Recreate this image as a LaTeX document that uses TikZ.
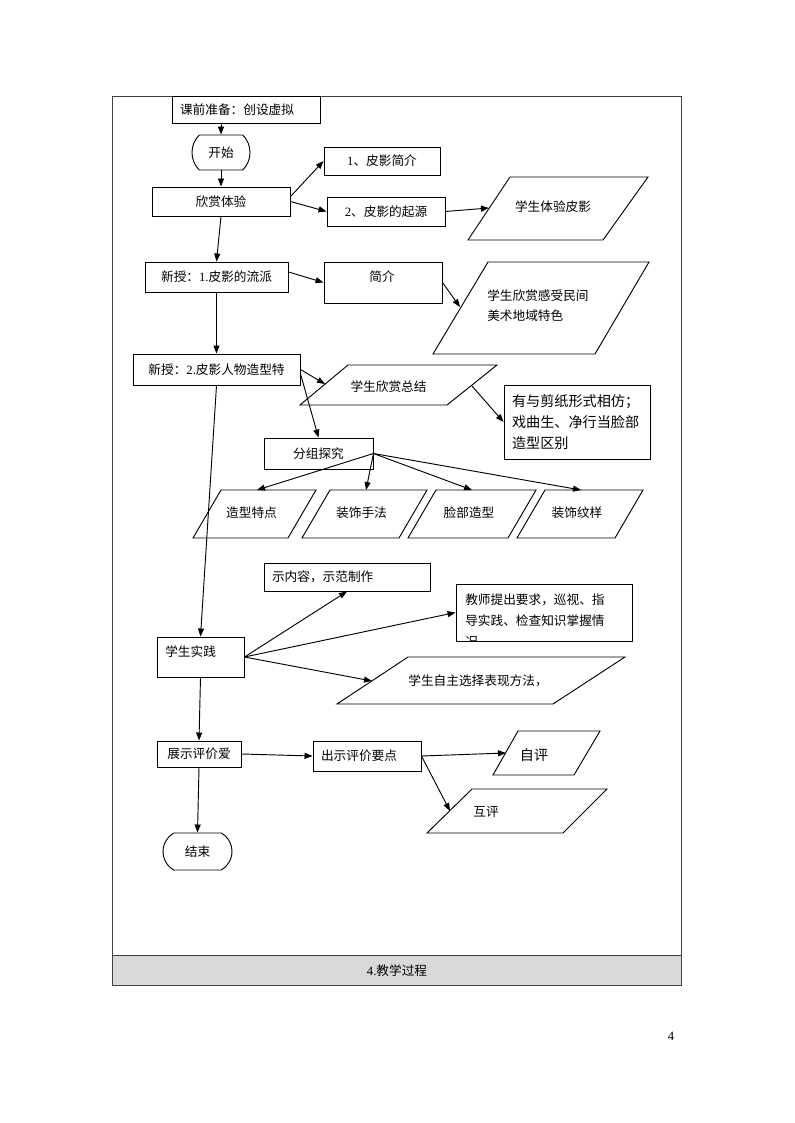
\documentclass[tikz,border=0pt]{standalone}
\usepackage{fontspec}
\setmainfont{Noto Sans CJK SC}
\newfontfamily\lat{Liberation Serif}
\usetikzlibrary{arrows.meta,shapes.misc}

\begin{document}
\begin{tikzpicture}[x = 0.75pt, y = 0.75pt, yscale = -1,
  every node/.style = {font = \fontsize{9.5}{12}\selectfont, inner sep = 0pt},
  box/.style = {draw, line width = 0.7pt},
  lbox/.style = {box, align = left, inner xsep = 6pt},
  term/.style = {draw, line width = 0.7pt, rounded rectangle, rounded rectangle arc length = #1},
  para/.style = {draw, line width = 0.7pt},
  arr/.style = {line width = 0.7pt, -{Triangle[length = 6pt, width = 4.5pt]}},
  big/.style = {font = \fontsize{10.6}{16}\selectfont}]
\useasboundingbox (0,0) rectangle (794,1123);
% frame of the table cell
\fill[black!15] (112,955) rectangle (681,985);
\draw[line width = 0.7pt, black!75] (112,96) rectangle (681,985);
\draw[line width = 0.7pt, black!75] (112,955) -- (681,955);
\node (title) at (397,971) {{\lat 4.}教学过程};
\node (page) at (671,1036) {\lat 4};

\node[lbox, text width = 99pt, minimum height = 20.25pt] (kq) at (246,109.5) {课前准备：创设虚拟};
\node[term = 90, minimum width = 43.5pt, minimum height = 26.25pt] (ks) at (221,152.5) {开始};
\node[box, minimum width = 103.5pt, minimum height = 21.75pt] (xs) at (221,201.5) {欣赏体验};
\node[box, minimum width = 87pt, minimum height = 21pt] (j1) at (382,161) {{\lat 1}、皮影简介};
\node[box, minimum width = 88.5pt, minimum height = 21.75pt] (qy) at (386,211.5) {{\lat 2}、皮影的起源};
\node[box, minimum width = 107.25pt, minimum height = 22.5pt] (lp) at (216.5,277) {新授：{\lat 1.}皮影的流派};
\node[box, minimum width = 88.5pt, minimum height = 30.75pt] (jj) at (383,282.5) {};
\node (jj-t) at (382,277) {简介};
\node[box, minimum width = 125.25pt, minimum height = 23.25pt] (rw) at (216.5,369.5) {新授：{\lat 2.}皮影人物造型特};
\node[lbox, big, text width = 97.5pt, minimum height = 55.5pt] (yj) at (577,422) {有与剪纸形式相仿；\\戏曲生、净行当脸部\\造型区别};
\node[box, minimum width = 81.75pt, minimum height = 23.25pt] (fz) at (318.5,453.5) {分组探究};
\node[lbox, text width = 112.5pt, minimum height = 21pt] (sn) at (347,577) {示内容，示范制作};
\begin{scope}
\clip (456,584) rectangle (632,641);
\node[anchor = north west, align = left, font = \fontsize{9.5}{15.75}\selectfont] (js-t) at (465,594) {教师提出要求，巡视、指\\导实践、检查知识掌握情\\况};
\end{scope}
\node[box, minimum width = 132pt, minimum height = 42.75pt] (js) at (544,612.5) {};
\node[box, minimum width = 65.25pt, minimum height = 30pt] (sj) at (200.5,657) {};
\node[anchor = west] (sj-t) at (165,652) {学生实践};
\node[box, minimum width = 63pt, minimum height = 19.5pt] (zs) at (199,754) {展示评价爱};
\node[lbox, text width = 69pt, minimum height = 22.5pt] (cs) at (367,756) {出示评价要点};
\node[term = 120, minimum width = 51.75pt, minimum height = 27.75pt] (jsb) at (197.5,851.5) {结束};

% parallelograms
\draw[para] (510,177) -- (648,177) -- (603,240) -- (468,240) -- cycle;
\node (ty) at (553,207) {学生体验皮影};
\coordinate (ty-in) at (489,208);
\draw[para] (488,262) -- (649,262) -- (595,354) -- (433,354) -- cycle;
\node[anchor = north west, align = left, font = \fontsize{9.5}{15}\selectfont] (mj) at (487,289) {学生欣赏感受民间\\美术地域特色};
\coordinate (mj-in) at (460,307);
\draw[para] (348,365) -- (497,365) -- (447,405) -- (300,405) -- cycle;
\node (zj) at (388.5,387) {学生欣赏总结};
\coordinate (zj-in) at (325,384);
\coordinate (zj-out) at (472,386);
\foreach \bl / \w / \name / \txt in {193/95/d1/造型特点, 302/97/d2/装饰手法, 408/100/d3/脸部造型, 517/98/d4/装饰纹样}
{
  \draw[para] (\bl + 28, 490) -- (\bl + 28 + \w, 490) -- (\bl + \w, 538) -- (\bl, 538) -- cycle;
  \node (\name) at (\bl + 11 + \w / 2, 513) {\txt};
  \coordinate (\name-in) at (\bl + 64, 490);
}
\draw[para] (408,657) -- (625,657) -- (553,704) -- (337,704) -- cycle;
\node (zx) at (478,681) {学生自主选择表现方法，};
\coordinate (zx-in) at (372,681);
\draw[para] (518,731) -- (600,731) -- (574,775) -- (493,775) -- cycle;
\node[big] (zp) at (534,755) {自评};
\coordinate (zp-in) at (506,753);
\draw[para] (472,789) -- (607,789) -- (563,833) -- (427,833) -- cycle;
\node (hp) at (486,812) {互评};
\coordinate (hp-in) at (450,811);

% connectors
\draw[arr] (ks.north |- kq.south) -- (ks.north);
\draw[arr] (ks.south) -- (xs.north);
\draw[arr] (xs.4) -- (j1.west);
\draw[arr] (xs.east) -- (qy.west);
\draw[arr] (qy.east) -- (ty-in);
\draw[arr] (xs.south) -- (lp.north);
\draw[arr] (lp.4) -- (jj.west);
\draw[arr] (jj.east) -- (mj-in);
\draw[arr] (lp.south) -- (rw.north);
\draw[arr] (rw.east) -- (zj-in);
\draw[arr] (rw.-3) -- (fz.north);
\draw[arr] (zj-out) -- (yj.west);
\foreach \name in {d1, d2, d3, d4}
  \draw[arr] (fz.east) -- (\name-in);
\draw[arr] (rw.south) -- (sj.north);
\draw[arr] (sj.east) -- (sn.south);
\draw[arr] (sj.east) -- (js.west);
\draw[arr] (sj.east) -- (zx-in);
\draw[arr] (sj.south) -- (zs.north);
\draw[arr] (zs.east) -- (cs.west);
\draw[arr] (cs.east) -- (zp-in);
\draw[arr] (cs.east) -- (hp-in);
\draw[arr] (zs.south) -- (jsb.north);
\end{tikzpicture}
\end{document}
